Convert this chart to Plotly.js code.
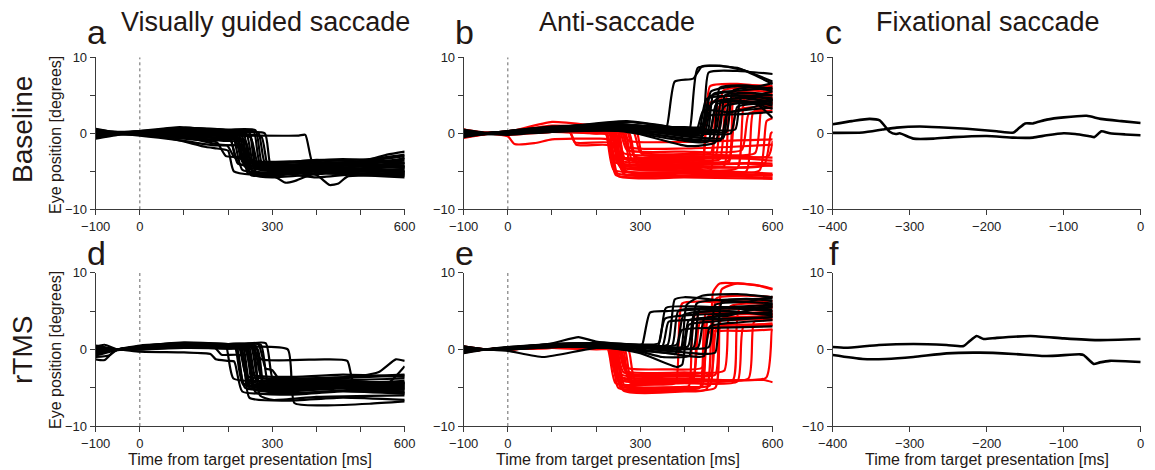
<!DOCTYPE html>
<html>
<head>
<meta charset="utf-8">
<script src="https://cdn.plot.ly/plotly-3.0.1.min.js"></script>
<style>html,body{margin:0;padding:0;background:#fff;}#chart{width:1155px;height:470px;}</style>
</head>
<body>
<div id="chart"></div>
<script>
// ---- Data: each trace is a flat list of [time(ms), eye position(deg)] key points ----
const panelTitles = ["Visually guided saccade", "Anti-saccade", "Fixational saccade"];
const rowLabels = ["Baseline", "rTMS"];
const panelLetters = ["a", "b", "c", "d", "e", "f"];
const xTitle = "Time from target presentation [ms]";
const yTitle = "Eye position [degrees]";
const taskTickVals = [-100, 0, 100, 200, 300, 400, 500, 600];
const taskTickText = ["\u2212100", "0", "", "", "300", "", "", "600"];
const fixTickVals = [-400, -300, -200, -100, 0];
const fixTickText = ["\u2212400", "\u2212300", "\u2212200", "\u2212100", "0"];
const yTickVals = [-10, -5, 0, 5, 10];
const yTickText = ["\u221210", "", "0", "", "10"];

// (a) Baseline, visually guided saccade (black)
const vgsBaseline = [
[-100,0.5,-50,0,0,0.2,60,0.6,150,0.6,200,0.3,222,-4.0,300,-4.3,420,-3.8,520,-4.0,600,-4.4],
[-100,-0.6,-50,-0.1,0,-0.2,80,-0.6,160,-1.0,175,-1.2,195,-3.0,230,-3.2,250,-5.2,380,-5.0,500,-5.4,600,-5.2],
[-100,0.2,-50,0.1,0,0,100,0.3,200,0.1,210,0,232,-4.8,300,-5.5,330,-6.5,350,-6.3,400,-5.2,600,-5.5],
[-100,-0.3,-50,0,0,0.3,100,0.4,210,-0.2,225,-0.3,248,-4.5,350,-4.8,450,-4.3,600,-4.0],
[-100,0.3,-50,0,0,0,90,0.2,170,-0.3,250,-0.5,270,-4.3,380,-4.6,480,-4.1,560,-2.8,600,-2.4],
[-100,-0.7,-50,-0.2,0,-0.1,100,-0.5,180,-1.5,198,-1.6,215,-3.2,240,-3.5,260,-5.5,300,-5.8,420,-5.3,600,-5.8],
[-100,0.1,-50,0,0,-0.1,80,-0.8,150,-1.8,175,-2.0,200,-2.3,213,-5.0,300,-5.6,400,-5.0,600,-5.0],
[-100,0.4,-50,0.1,0,0.2,100,0.7,200,0.5,262,0.4,278,-4.2,340,-3.8,450,-4.1,600,-3.6],
[-100,0.0,-50,0,0,0.1,60,-0.3,150,-0.8,238,-0.9,255,-4.0,350,-4.2,500,-4.7,600,-4.2],
[-100,-0.2,-50,0,0,0.3,120,0.3,230,0.0,242,-0.1,262,-5.0,320,-5.2,420,-4.6,600,-5.3],
[-100,0.6,-50,0.1,0,0,100,-0.2,240,-0.3,360,-0.3,375,-0.2,395,-4.5,480,-4.8,600,-4.3],
[-100,-0.4,-50,0,0,0,100,0.2,200,-0.2,275,-0.4,292,-4.6,370,-4.3,440,-5.0,520,-4.6,600,-3.2],
[-100,0.2,-50,0,0,0.1,80,0.4,180,-0.3,215,-0.5,233,-3.8,300,-4.0,400,-3.5,500,-3.7,600,-3.0],
[-100,-0.5,-50,-0.1,0,-0.3,100,-1.0,170,-1.6,230,-1.7,245,-5.3,320,-5.0,400,-5.5,430,-6.8,450,-6.6,470,-5.7,600,-5.6],
[-100,0.3,-50,0,0,0.2,100,0.5,200,0.3,258,0.2,272,-3.9,340,-4.4,460,-3.9,600,-4.6],
[-100,-0.1,-50,0,0,0,100,-0.3,200,-0.6,220,-0.6,238,-4.4,320,-4.6,420,-4.9,600,-4.7],
[-100,0.0,-50,0,0,-0.2,100,0,200,-0.2,250,-0.3,266,-4.7,330,-5.0,450,-4.5,600,-5.0],
[-100,0.5,-50,0.2,0,0.3,90,0.8,180,0.4,228,0.2,244,-3.7,320,-3.9,420,-3.6,520,-3.4,600,-2.8],
[-100,-0.3,-50,0,0,-0.1,100,-0.4,190,-0.7,205,-0.8,224,-4.0,300,-4.3,400,-4.5,600,-4.9],
[-100,0.2,-50,0,0,0,100,0.1,200,0,283,0,298,-4.5,380,-4.8,480,-4.4,600,-4.5],
[-100,-0.2,-50,-0.1,0,0.1,100,0.2,200,-0.1,236,-0.2,252,-5.5,330,-5.3,400,-5.8,520,-5.2,600,-5.4],
[-100,0.4,-50,0,0,0.1,100,0.3,190,0.2,248,0.1,262,-4.1,360,-4.4,460,-4.0,560,-3.6,600,-3.4],
[-100,-0.6,-50,-0.1,0,0,100,-0.1,200,-0.4,222,-0.5,240,-4.2,330,-4.5,430,-4.2,600,-4.4],
[-100,0.1,-50,0,0,0.2,100,0.6,200,0.3,268,0.1,284,-4.0,360,-4.1,500,-4.6,600,-3.9],
[-100,0.0,-50,0,0,-0.1,100,-0.5,190,-1.0,240,-1.2,255,-4.9,350,-5.1,450,-4.8,600,-5.1],
[-100,0.3,-50,0.1,0,0,100,0.2,200,0,230,-0.1,246,-3.5,340,-3.7,460,-3.4,600,-3.9]
];

// (b) Baseline, anti-saccade: error trials (red) and correct trials (black)
const antiBaselineRed = [
[-100,0.5,-50,0,0,0.2,100,1.5,200,1.0,220,0.9,240,-4.8,380,-5.2,600,-5.5],
[-100,-0.4,-50,0,0,-0.4,15,-1.4,60,-1.3,100,-0.8,200,-0.7,225,-0.8,245,-5.5,400,-5.6,600,-5.8],
[-100,0.2,-50,0,0,0.1,100,0.6,140,0.3,155,-1.5,230,-1.6,250,-4.0,350,-4.2,520,-4.5,600,-4.2],
[-100,0,-50,0,0,0,100,0.4,200,0.2,232,0.1,252,-3.2,380,-3.5,500,-3.2,600,-3.6],
[-100,-0.2,-50,0,0,0.2,100,0.5,200,0.3,240,0.2,258,-4.5,420,-4.6,440,-4.5,458,4.0,550,4.6,600,4.4],
[-100,0.3,-50,0,0,0,100,0.3,200,0,245,-0.1,262,-2.6,420,-2.8,460,-2.6,478,3.5,540,4.2,600,4.0],
[-100,-0.6,-50,-0.1,0,0,100,0.2,200,0.1,225,0,242,-3.8,420,-4.0,500,-3.9,518,3.0,600,3.6],
[-100,0.1,-50,0,0,0.2,100,0.7,200,0.5,250,0.4,268,-5.0,400,-5.2,540,-5.0,556,2.8,600,3.4],
[-100,0.4,-50,0,0,0.1,100,0.5,200,0.4,270,0.3,286,-3.0,380,-3.2,470,-3.0,488,5.6,560,6.0,600,5.8],
[-100,-0.3,-50,0,0,-0.1,100,0.4,200,0.2,285,0.1,300,-2.5,420,-2.7,560,-2.6,576,3.8,600,4.0],
[-100,0.2,-50,0,0,0.3,100,0.8,200,0.6,228,0.5,246,-5.2,360,-5.4,480,-5.0,600,-5.3],
[-100,0,-50,0,0,0,100,0.2,200,0,235,-0.1,255,-3.6,400,-3.8,440,-3.7,458,6.2,520,6.5,600,6.0],
[-100,-0.5,-50,-0.1,0,0.1,100,0.5,200,0.3,238,0.2,258,-4.2,420,-4.4,580,-4.2,596,0.0,600,0.2],
[-100,0.3,-50,0,0,0.2,100,1.0,200,0.8,255,0.6,272,-1.8,400,-2.0,500,-1.8,600,-1.5],
[-100,0.1,-50,0,0,0,100,0.3,200,0.2,262,0.0,280,-4.6,420,-4.8,520,-4.6,538,4.8,600,5.2],
[-100,-0.1,-50,0,0,0.1,100,0.4,200,0.3,248,0.2,266,-3.4,420,-3.6,480,-3.4,498,5.2,560,5.6,600,5.4],
[-100,0.4,-50,0.1,0,0.2,100,0.6,200,0.4,230,0.3,250,-5.6,400,-5.8,600,-6.0],
[-100,-0.2,-50,0,0,0,100,0.3,200,0.1,275,0.0,292,-4.0,420,-4.1,560,-3.9,600,-4.0],
[-100,0.2,-50,0,0,0.2,100,0.7,200,0.5,252,0.4,270,-2.2,400,-2.4,530,-2.2,546,2.6,600,3.0],
[-100,0,-50,0,0,0.1,100,0.5,200,0.4,240,0.3,258,-4.8,420,-5.0,460,-4.8,476,4.6,560,5.0,600,4.6],
[-100,-0.4,-50,0,0,-0.2,100,0.2,200,0,222,-0.1,240,-3.0,400,-3.2,590,-3.0,600,-1.0],
[-100,0.3,-50,0,0,0.1,100,0.6,200,0.4,265,0.3,282,-3.6,420,-3.8,500,-3.6,515,6.0,600,6.2],
[-100,0.1,-50,0,0,0.2,100,0.5,200,0.3,244,0.2,262,-5.3,420,-5.5,600,-5.5],
[-100,-0.2,-50,0,0,0,100,0.3,140,0.2,152,-1.2,236,-1.3,254,-4.4,420,-4.5,490,-4.3,506,4.2,600,4.8],
[-100,0.5,-50,0.1,0,0.2,100,0.9,200,0.7,290,0.5,305,-2.8,420,-3.0,600,-3.2],
[-100,0,-50,0,0,0,100,0.4,200,0.2,236,0.1,254,-4.0,420,-4.2,540,-4.0,600,-4.3],
[-100,-0.3,-50,0,0,0.1,100,0.4,200,0.3,258,0.2,275,-1.0,420,-1.1,600,-0.8],
[-100,0.2,-50,0,0,0.2,100,0.6,200,0.5,248,0.4,264,-4.9,420,-5.1,570,-4.9,586,1.6,600,2.0]
];
const antiBaselineBlack = [
[-100,0.4,-50,0,0,0.3,100,0.9,250,1.2,350,0.8,360,0.9,378,6.8,420,7.2,440,8.8,520,8.6,600,6.5],
[-100,-0.3,-50,0,0,0.1,100,0.5,250,0.8,400,0.5,412,0.6,430,8.6,480,8.9,540,8.2,600,6.8],
[-100,0.2,-50,0,0,0.2,100,0.7,270,1.5,400,0.6,440,0.5,455,8.0,520,8.2,600,7.8],
[-100,0,-50,0,0,0,100,0.4,250,0.6,420,-0.2,432,-0.2,450,4.5,520,5.0,600,4.6],
[-100,-0.5,-50,-0.1,0,-0.2,100,0.2,250,0.3,400,-1.0,440,-1.2,455,-1.0,475,4.2,550,4.6,600,4.0],
[-100,0.3,-50,0,0,0.1,100,0.6,250,1.0,400,0.8,445,0.9,460,5.5,520,6.2,600,5.6],
[-100,0.1,-50,0,0,0.3,100,0.8,260,1.2,400,0.3,458,0.4,472,3.8,540,4.2,600,3.2],
[-100,-0.2,-50,0,0,0,100,0.3,250,0.5,390,-1.5,410,-1.7,470,-1.2,490,3.5,560,4.0,600,2.0],
[-100,0.5,-50,0.1,0,0.2,100,0.6,250,0.9,400,0.2,478,0.3,492,5.0,560,5.3,600,5.0],
[-100,0,-50,0,0,0.1,100,0.5,250,0.7,420,-0.5,488,-0.6,502,4.4,560,4.8,600,4.4],
[-100,-0.4,-50,0,0,-0.1,100,0.2,250,0.4,420,0.0,505,0,520,3.5,570,3.9,600,3.7],
[-100,0.2,-50,0,0,0.2,100,0.6,250,1.0,420,0.7,438,0.7,452,3.2,480,4.8,560,5.0,600,5.5],
[-100,-0.1,-50,0,0,0.1,100,0.4,250,0.8,420,0.5,448,0.5,462,4.0,520,4.3,600,3.8],
[-100,0.3,-50,0,0,0,100,0.3,250,0.6,410,-0.4,465,-0.6,480,6.0,540,6.3,600,5.8],
[-100,0.0,-50,0,0,0.2,100,0.7,270,1.6,420,0.4,428,0.4,443,3.0,500,2.8,560,3.5,600,4.5],
[-100,-0.3,-50,-0.1,0,0,100,0.3,250,0.4,420,-0.8,482,-0.9,497,2.6,560,3.2,600,3.4],
[-100,0.4,-50,0,0,0.1,100,0.5,250,0.9,420,0.6,515,0.5,528,4.6,600,5.0],
[-100,0.1,-50,0,0,0.2,100,0.6,250,0.8,420,0.1,452,0,466,5.2,520,5.6,600,6.0],
[-100,-0.2,-50,0,0,0.1,100,0.4,250,0.6,410,-0.9,436,-1.0,450,2.2,520,2.5,600,2.8],
[-100,0.2,-50,0,0,0,100,0.4,250,0.7,420,0.2,470,0.2,484,4.3,540,4.0,600,4.3],
[-100,0.0,-50,0,0,0.2,100,0.5,250,0.8,430,0.3,495,0.2,510,5.6,570,6.2,600,6.6],
[-100,-0.4,-50,0,0,0,100,0.3,250,0.5,430,-0.3,442,-0.3,456,4.8,500,5.4,540,4.6,600,4.2]
];

// (c) Baseline, fixational saccade (time before target presentation)
const fixBaseline = [
[-400,1.2,-375,1.6,-352,1.9,-339,1.7,-326,0.2,-318,-0.1,-313,0,-295,-0.7,-269,-0.7,-243,-0.5,-200,-0.35,-165,-0.57,-140,-0.57,-122,-0.26,-100,0,-85,-0.1,-66,-0.4,-60,-0.5,-51,0.26,-40,0,-20,-0.15,0,-0.25],
[-400,0.05,-361,0.1,-335,0.5,-317,0.75,-287,0.9,-262,0.8,-226,0.6,-187,0.26,-165,0.1,-159,0.6,-150,1.3,-140,1.3,-122,1.8,-100,2.1,-70,2.3,-52,1.9,-25,1.6,0,1.36]
];

// (d) rTMS, visually guided saccade
const vgsRtms = [
[-100,-1.3,-80,-1.4,-60,-0.3,-50,0,0,0.5,100,0.8,180,0.6,195,0.5,212,-3.8,320,-4.2,450,-4.0,600,-4.6],
[-100,0.4,-80,0.6,-50,0,0,0.2,100,0.6,200,0.4,218,0.3,236,-4.5,330,-4.8,450,-4.5,600,-5.0],
[-100,-0.2,-50,0,0,-0.3,100,-0.4,160,-0.6,172,-1.3,200,-1.5,214,-1.6,232,-5.5,320,-5.8,450,-5.4,600,-5.7],
[-100,0.2,-50,0,0,0.4,100,0.9,200,0.7,246,0.6,264,-4.0,360,-4.3,480,-4.0,600,-3.8],
[-100,-0.5,-50,0,0,0.2,100,0.5,200,0.3,225,0.2,242,-3.5,340,-3.8,470,-3.6,600,-3.3],
[-100,0.1,-50,0,0,0.3,100,0.6,200,0.4,256,0.3,272,-6.0,300,-6.6,400,-6.2,600,-6.0],
[-100,-0.8,-50,-0.1,0,0,100,0.2,200,0.1,230,0,250,-4.8,350,-5.0,480,-4.7,600,-5.2],
[-100,0.3,-50,0,0,0.4,100,0.7,210,0.5,268,0.7,285,-2.5,300,-2.7,320,-4.2,450,-4.5,600,-4.1],
[-100,0,-50,0,0,0.1,100,0.3,200,0.1,240,0,258,-5.2,330,-5.5,460,-5.1,600,-5.5],
[-100,-1.0,-70,-0.8,-50,0,0,0.3,100,0.6,200,0.4,285,0.8,302,-4.0,360,-4.4,480,-4.2,600,-4.5],
[-100,0.5,-50,0,0,0.2,100,0.6,200,0.3,335,0.0,350,-7.0,420,-7.3,520,-7.1,600,-6.8],
[-100,-0.3,-50,0,0,0.3,100,0.7,200,0.5,250,0.4,275,-1.3,420,-1.3,470,-1.5,485,-4.5,560,-4.3,600,-4.4],
[-100,0.2,-50,0,0,0,100,0.4,200,0.3,234,0.2,250,-4.4,340,-4.7,460,-4.4,600,-4.8],
[-100,-0.4,-50,0,0,0.1,100,0.5,200,0.3,220,0.2,238,-5.0,330,-5.3,460,-5.0,600,-5.3],
[-100,0.0,-50,0,0,0.2,100,0.8,200,0.6,262,0.5,280,-4.7,370,-5.0,480,-4.6,600,-4.9],
[-100,0.4,-50,0,0,0.3,100,0.6,200,0.4,226,0.3,244,-3.9,340,-4.1,460,-3.8,540,-3.0,580,-1.3,600,-1.5],
[-100,-0.2,-50,0,0,0,100,0.3,200,0.2,245,0.1,262,-5.6,340,-5.9,460,-5.5,600,-5.8],
[-100,0.1,-50,0,0,0.2,100,0.5,200,0.4,252,0.3,270,-4.2,370,-4.5,480,-4.2,600,-4.4],
[-100,-0.6,-50,0,0,0.1,100,0.4,200,0.2,238,0.1,256,-3.3,340,-3.6,460,-3.3,600,-3.6],
[-100,0.3,-50,0,0,0.4,100,0.8,200,0.7,274,0.6,292,-4.5,380,-4.8,480,-4.5,600,-4.7],
[-100,0,-50,0,0,0.3,100,0.6,200,0.4,230,0.3,248,-6.3,330,-6.7,460,-6.3,600,-6.6],
[-100,-0.3,-50,0,0,0.2,100,0.5,200,0.3,216,0.2,234,-4.6,340,-4.9,470,-4.6,600,-4.3],
[-100,0.2,-50,0,0,0.1,100,0.4,170,0.2,185,-0.7,230,-0.8,248,-5.0,350,-5.2,480,-4.9,600,-5.1],
[-100,-0.1,-50,0,0,0.3,100,0.7,200,0.5,258,0.4,276,-3.7,360,-3.9,480,-3.7,600,-3.4],
[-100,0.3,-50,0,0,0.2,100,0.5,200,0.3,242,0.2,260,-4.3,360,-4.6,480,-4.3,560,-4.5,600,-2.2],
[-100,-0.5,-50,0,0,0.1,100,0.4,200,0.2,266,0.1,284,-5.4,370,-5.7,480,-5.3,600,-5.6]
];

// (e) rTMS, anti-saccade
const antiRtmsRed = [
[-100,0.3,-50,0,0,0.1,100,0.4,200,0.3,228,0.2,246,-3.5,380,-3.8,420,-3.6,434,5.2,500,5.5,600,5.0],
[-100,-0.2,-50,0,0,0,100,0.3,200,0.1,238,0,256,-4.6,360,-5.0,440,-4.8,454,4.2,540,4.6,600,4.4],
[-100,0.2,-50,0,0,0.2,100,0.5,200,0.3,245,0.2,262,-5.4,400,-5.5,450,-5.2,465,7.5,480,8.6,560,8.4,600,7.8],
[-100,0,-50,0,0,0.1,100,0.4,200,0.2,232,0.1,250,-4.0,400,-4.2,580,-4.0,600,-4.3],
[-100,-0.3,-50,0,0,0,100,0.2,200,0,252,-0.1,270,-3.2,380,-3.4,460,-3.2,474,3.0,560,3.2,600,3.4],
[-100,0.4,-50,0,0,0.2,100,0.6,200,0.5,236,0.4,254,-4.8,380,-5.0,410,-4.8,424,4.5,500,4.8,600,4.6],
[-100,0.1,-50,0,0,0.1,100,0.4,200,0.3,242,0.2,260,-3.8,400,-4.0,545,-3.8,558,3.6,600,3.8],
[-100,-0.1,-50,0,0,0,100,0.3,200,0.2,260,0.1,276,-4.3,400,-4.4,520,-4.2,534,3.0,600,3.2],
[-100,0.3,-50,0,0,0.2,100,0.5,200,0.4,248,0.3,266,-2.8,400,-3.0,490,-2.8,504,5.6,560,6.0,600,5.8],
[-100,0,-50,0,0,0.1,100,0.3,200,0.2,226,0.1,244,-4.4,340,-4.6,380,-4.4,395,6.0,460,6.2,600,6.3],
[-100,-0.4,-50,0,0,0,100,0.2,200,0.1,256,0,272,-3.6,400,-3.8,585,-3.7,598,2.4,600,2.6],
[-100,0.2,-50,0,0,0.2,100,0.5,200,0.4,234,0.3,250,-5.0,380,-5.2,435,-5.0,450,5.0,520,5.3,600,5.6],
[-100,0.1,-50,0,0,0.1,100,0.4,200,0.3,240,0.2,258,-3.3,400,-3.5,470,-3.3,484,4.0,560,4.2,600,4.5],
[-100,-0.2,-50,0,0,0,100,0.3,200,0.2,264,0.1,280,-4.1,380,-4.3,440,-4.1,455,2.8,520,3.0,600,3.2],
[-100,0.3,-50,0,0,0.2,100,0.5,200,0.4,246,0.3,264,-4.7,400,-4.9,458,-4.7,472,6.6,540,7.0,600,6.8],
[-100,0,-50,0,0,0.1,100,0.4,200,0.3,230,0.2,248,-3.9,380,-4.1,420,-3.9,436,3.6,500,3.8,600,4.0],
[-100,-0.1,-50,0,0,0,100,0.2,200,0.1,254,0,270,-2.4,360,-2.6,440,-2.4,456,2.2,540,2.4,600,2.6],
[-100,0.2,-50,0,0,0.1,100,0.4,200,0.3,240,0.2,258,-5.2,380,-5.4,470,-5.0,484,7.8,520,8.6,580,8.2,600,7.9],
[-100,0.0,-50,0,0,0.1,100,0.3,200,0.2,272,0.1,288,-4.0,420,-4.1,510,-4.0,524,5.2,600,5.4],
[-100,0.1,-50,0,0,0.2,100,0.4,200,0.3,244,0.2,262,-3.0,400,-3.2,440,-3.0,455,4.4,520,4.7,600,4.9]
];
const antiRtmsBlack = [
[-100,0.4,-50,0,0,0.2,100,0.8,160,1.6,200,1.0,300,0.6,305,0.7,322,4.8,360,5.0,600,5.5],
[-100,-0.3,-50,0,0,0.1,100,0.4,200,0.6,320,0.4,362,0.6,378,6.5,400,6.8,480,6.4,600,6.0],
[-100,0.2,-50,0,0,-0.2,80,-1.0,200,0.2,330,0.2,340,0.3,356,4.0,420,4.5,600,4.8],
[-100,0,-50,0,0,0.3,100,0.6,200,0.5,300,-0.5,382,-2.3,395,-2.0,410,3.2,460,3.6,600,4.2],
[-100,-0.4,-50,0,0,0,100,0.3,200,0.4,300,-0.3,350,-1.0,400,-1.0,412,-0.8,428,6.0,500,6.5,600,6.6],
[-100,0.3,-50,0,0,0.2,100,0.7,200,0.8,300,0.5,382,0.6,398,4.5,460,5.0,600,4.6],
[-100,0.1,-50,0,0,0.1,100,0.5,200,0.6,300,0.3,420,0.2,434,5.2,500,5.5,600,5.2],
[-100,-0.2,-50,0,0,0,100,0.4,200,0.5,300,0.0,400,-0.8,444,-0.9,458,3.0,520,3.5,600,3.8],
[-100,0.2,-50,0,0,0.2,100,0.6,200,0.7,300,0.4,350,0.4,364,3.6,400,3.8,600,4.2],
[-100,0,-50,0,0,0.1,100,0.5,200,0.4,300,0.3,390,-0.2,405,5.8,440,7.0,520,7.2,600,6.8],
[-100,-0.5,-50,0,0,0.2,100,0.5,200,0.6,300,0.6,342,0.8,358,5.4,420,5.6,600,5.0],
[-100,0.3,-50,0,0,0.1,100,0.4,200,0.5,300,0.3,430,0.2,445,4.0,500,4.4,600,6.0],
[-100,0.1,-50,0,0,0.3,100,0.7,200,0.8,300,0.6,372,0.5,386,5.0,460,5.4,600,5.8],
[-100,-0.2,-50,0,0,0,100,0.3,200,0.3,300,0.2,440,-0.6,470,-0.4,485,6.2,540,6.6,600,6.3],
[-100,0.2,-50,0,0,0.2,100,0.6,200,0.7,300,0.5,408,0.4,422,4.6,500,5.0,600,4.4],
[-100,-0.1,-50,0,0,0.1,100,0.3,200,0.5,300,0.4,395,0.3,410,3.8,460,4.2,600,5.6],
[-100,0.4,-50,0,0,0.2,100,0.5,200,0.6,300,0.5,455,0.3,470,5.8,540,6.2,600,6.9],
[-100,0,-50,0,0,0.1,100,0.4,200,0.3,300,-0.2,365,-0.5,380,-0.6,394,2.5,460,2.8,600,3.0]
];

// (f) rTMS, fixational saccade
const fixRtms = [
[-400,0.3,-383,0.2,-340,0.57,-295,0.7,-252,0.57,-230,0.43,-222,1.1,-213,1.74,-204,1.35,-187,1.5,-143,1.74,-100,1.43,-57,1.2,0,1.35],
[-400,-0.74,-361,-1.26,-331,-1.26,-295,-1.0,-252,-0.52,-209,-0.43,-165,-0.6,-122,-0.87,-79,-0.65,-74,-0.75,-61,-1.9,-53,-1.7,-40,-1.5,0,-1.65]
];

// ---- Build traces ----
const RED = "#ff0000", BLACK = "#000000";
const traces = [];
function addGroup(list, axisIdx, color, width) {
  const xa = axisIdx === 1 ? "x" : "x" + axisIdx;
  const ya = axisIdx === 1 ? "y" : "y" + axisIdx;
  list.forEach(function (flat) {
    const xs = [], ys = [];
    for (let i = 0; i < flat.length; i += 2) { xs.push(flat[i]); ys.push(flat[i + 1]); }
    traces.push({x: xs, y: ys, type: "scatter", mode: "lines", xaxis: xa, yaxis: ya,
      line: {color: color, width: width, shape: "spline", smoothing: 0.5},
      hoverinfo: "skip", showlegend: false});
  });
}
addGroup(vgsBaseline, 1, BLACK, 2.2);
addGroup(antiBaselineRed, 2, RED, 2.2);
addGroup(antiBaselineBlack, 2, BLACK, 2.2);
addGroup(fixBaseline, 3, BLACK, 2.6);
addGroup(vgsRtms, 4, BLACK, 2.2);
addGroup(antiRtmsRed, 5, RED, 2.2);
addGroup(antiRtmsBlack, 5, BLACK, 2.2);
addGroup(fixRtms, 6, BLACK, 2.6);

// ---- Layout ----
const W = 1155, H = 470;
const colPx = [[95.7, 404.7], [463.7, 772.7], [832.7, 1140.7]];
const rowPx = [[57.3, 209.3], [272.7, 426]];
const FONT = "Liberation Sans, Arial, Helvetica, sans-serif";
const TXT = "#231815";
const AX = "#3a3a3a";

const layout = {
  width: W, height: H,
  margin: {l: 0, r: 0, t: 0, b: 0},
  paper_bgcolor: "#ffffff", plot_bgcolor: "rgba(0,0,0,0)",
  showlegend: false,
  font: {family: FONT, color: TXT},
  annotations: [], shapes: []
};

for (let r = 0; r < 2; r++) {
  for (let c = 0; c < 3; c++) {
    const idx = r * 3 + c + 1;
    const xk = idx === 1 ? "xaxis" : "xaxis" + idx;
    const yk = idx === 1 ? "yaxis" : "yaxis" + idx;
    const xa = idx === 1 ? "x" : "x" + idx;
    const ya = idx === 1 ? "y" : "y" + idx;
    const isFix = c === 2;
    layout[xk] = {
      domain: [colPx[c][0] / W, colPx[c][1] / W],
      anchor: ya,
      range: isFix ? [-400, 0] : [-100, 600],
      tickmode: "array",
      tickvals: isFix ? fixTickVals : taskTickVals,
      ticktext: isFix ? fixTickText : taskTickText,
      ticks: "outside", ticklen: 5, tickwidth: 1, tickcolor: AX,
      showline: true, linecolor: AX, linewidth: 1,
      showgrid: false, zeroline: false,
      tickfont: {family: FONT, size: 13, color: "#222"},
      fixedrange: true
    };
    layout[yk] = {
      domain: [1 - rowPx[r][1] / H, 1 - rowPx[r][0] / H],
      anchor: xa,
      range: [-10, 10],
      tickmode: "array", tickvals: yTickVals, ticktext: yTickText,
      ticks: "outside", ticklen: 5, tickwidth: 1, tickcolor: AX,
      showline: true, linecolor: AX, linewidth: 1,
      showgrid: false, zeroline: false,
      tickfont: {family: FONT, size: 13, color: "#222"},
      fixedrange: true
    };
    if (!isFix) {
      layout.shapes.push({type: "line", xref: xa, yref: ya, x0: 0, x1: 0, y0: -10, y1: 10,
        line: {color: "#666", width: 1, dash: "dot"}, layer: "below"});
    }
    // panel letter
    layout.annotations.push({
      text: panelLetters[idx - 1], xref: "paper", yref: "paper",
      x: (colPx[c][0] + 1) / W, y: 1 - (r === 0 ? 32 : 253) / H,
      xanchor: "center", yanchor: "middle", showarrow: false,
      font: {family: FONT, size: 34, color: TXT}
    });
    // x-axis title (bottom row)
    if (r === 1) {
      layout.annotations.push({
        text: xTitle, xref: "paper", yref: "paper",
        x: (colPx[c][0] + colPx[c][1]) / 2 / W, y: 1 - 459 / H,
        xanchor: "center", yanchor: "middle", showarrow: false,
        font: {family: FONT, size: 16, color: TXT}
      });
    }
  }
}
// column titles
const titleCx = [265, 617, 988];
for (let c = 0; c < 3; c++) {
  layout.annotations.push({
    text: panelTitles[c], xref: "paper", yref: "paper",
    x: titleCx[c] / W, y: 1 - 22 / H, xanchor: "center", yanchor: "middle",
    showarrow: false, font: {family: FONT, size: 27, color: TXT}
  });
}
// row labels and y titles
const rowCy = [130, 350];
const yTitleCy = [135, 350];
for (let r = 0; r < 2; r++) {
  layout.annotations.push({
    text: rowLabels[r], xref: "paper", yref: "paper",
    x: 22 / W, y: 1 - rowCy[r] / H, xanchor: "center", yanchor: "middle",
    textangle: -90, showarrow: false, font: {family: FONT, size: 28, color: TXT}
  });
  layout.annotations.push({
    text: yTitle, xref: "paper", yref: "paper",
    x: 55 / W, y: 1 - yTitleCy[r] / H, xanchor: "center", yanchor: "middle",
    textangle: -90, showarrow: false, font: {family: FONT, size: 16, color: TXT}
  });
}

Plotly.newPlot("chart", traces, layout, {displayModeBar: false, staticPlot: true});
</script>
</body>
</html>
